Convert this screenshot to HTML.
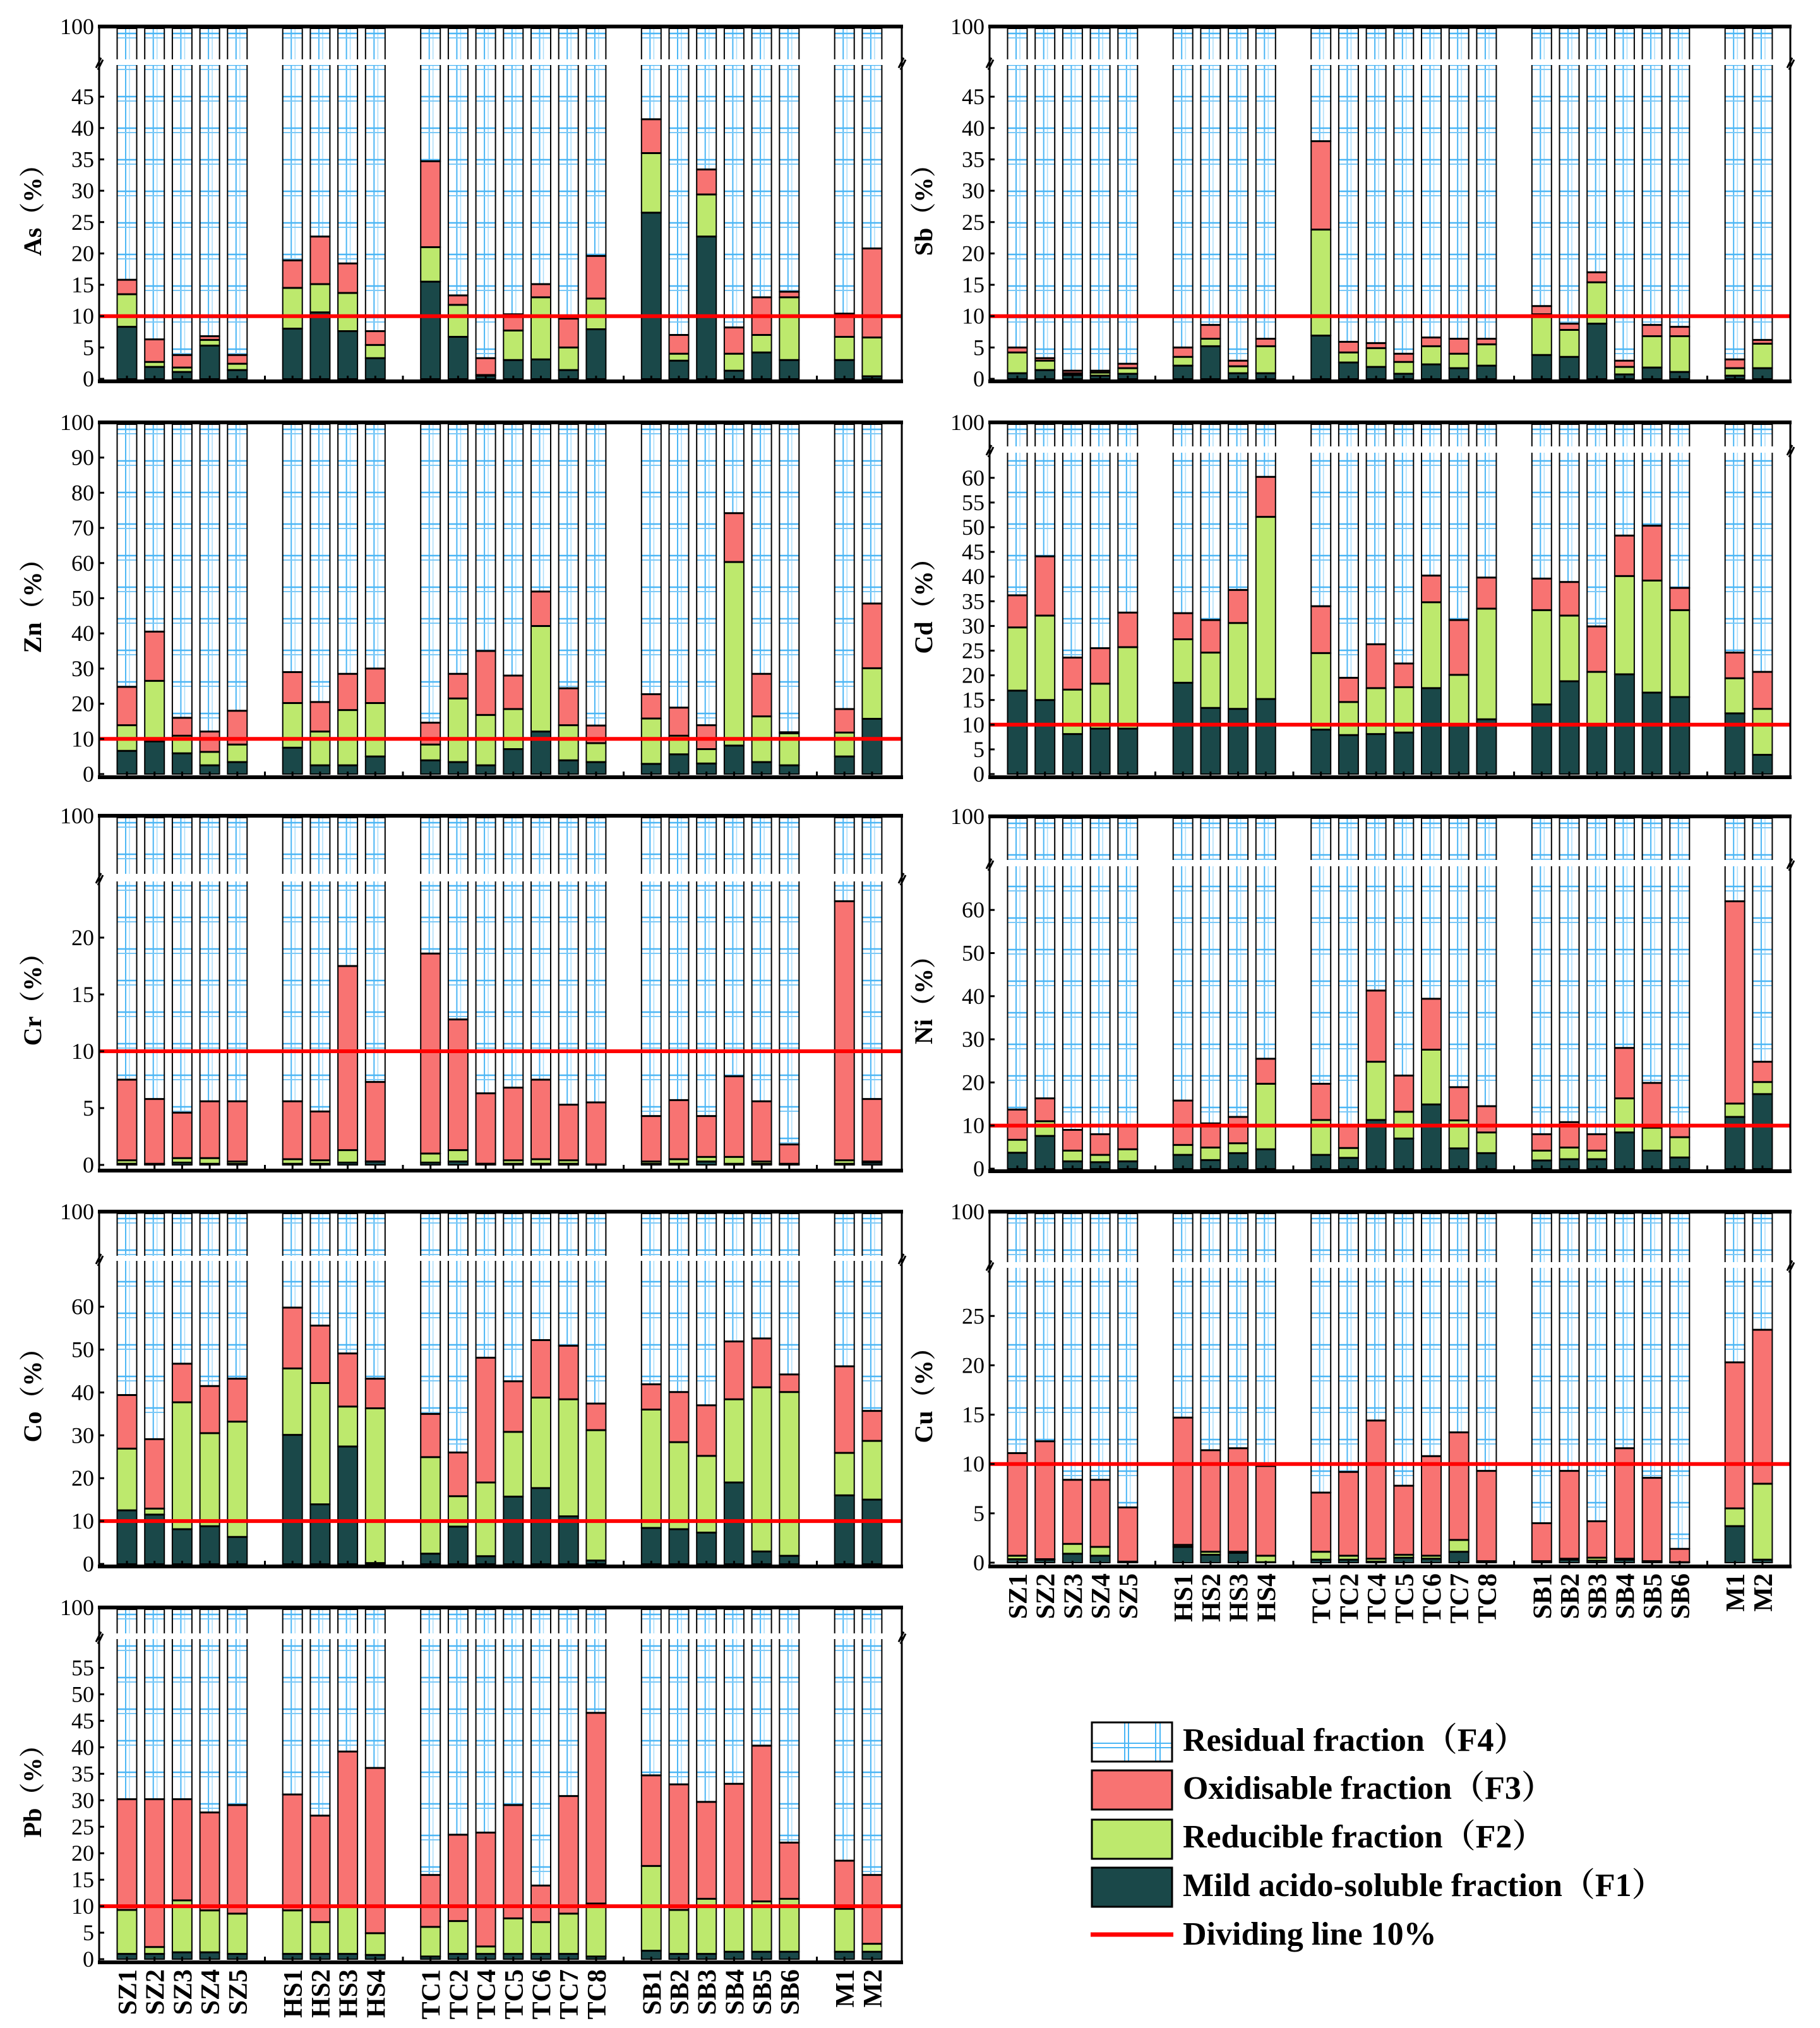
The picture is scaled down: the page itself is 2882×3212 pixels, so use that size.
<!DOCTYPE html>
<html><head><meta charset="utf-8">
<style>
html,body{margin:0;padding:0;background:#fff;}
svg{display:block;}
text{font-family:"Liberation Serif","Noto Serif CJK SC",serif;}
</style></head>
<body>
<svg id="chart" xmlns="http://www.w3.org/2000/svg" width="2882" height="3212" viewBox="0 0 2882 3212">
<rect x="0" y="0" width="2882" height="3212" fill="#fff"/>
<g id="legend">
  <defs>
    <pattern id="legHatch" patternUnits="userSpaceOnUse" x="1729" y="2728" width="127" height="62">
      <rect width="127" height="62" fill="#fff"/>
      <line x1="52" y1="0" x2="52" y2="62" stroke="#4bb6f5" stroke-width="2"/>
      <line x1="58" y1="0" x2="58" y2="62" stroke="#4bb6f5" stroke-width="2"/>
      <line x1="101" y1="0" x2="101" y2="62" stroke="#4bb6f5" stroke-width="2"/>
      <line x1="108" y1="0" x2="108" y2="62" stroke="#4bb6f5" stroke-width="2"/>
      <line x1="0" y1="33" x2="127" y2="33" stroke="#4bb6f5" stroke-width="2"/>
      <line x1="0" y1="40" x2="127" y2="40" stroke="#4bb6f5" stroke-width="2"/>
    </pattern>
  </defs>
  <g>
    <rect x="1729" y="2728" width="127" height="62" fill="url(#legHatch)" stroke="#000" stroke-width="3"/>
    <text x="1873" y="2773" font-size="52" font-weight="bold">Residual fraction（F4）</text>
  </g>
  <g>
    <rect x="1729" y="2804" width="127" height="62" fill="#f87372" stroke="#000" stroke-width="3"/>
    <text x="1873" y="2849" font-size="52" font-weight="bold">Oxidisable fraction（F3）</text>
  </g>
  <g>
    <rect x="1729" y="2882" width="127" height="62" fill="#bde96d" stroke="#000" stroke-width="3"/>
    <text x="1873" y="2926" font-size="52" font-weight="bold">Reducible fraction（F2）</text>
  </g>
  <g>
    <rect x="1729" y="2958" width="127" height="62" fill="#1a4849" stroke="#000" stroke-width="3"/>
    <text x="1873" y="3003" font-size="52" font-weight="bold">Mild acido-soluble fraction（F1）</text>
  </g>
  <g>
    <line x1="1727" y1="3064" x2="1858" y2="3064" stroke="#ff0000" stroke-width="7"/>
    <text x="1873" y="3080" font-size="52" font-weight="bold">Dividing line 10%</text>
  </g>
</g>
</svg>
<script>
const categories = ["SZ1","SZ2","SZ3","SZ4","SZ5","HS1","HS2","HS3","HS4","TC1","TC2","TC4","TC5","TC6","TC7","TC8","SB1","SB2","SB3","SB4","SB5","SB6","M1","M2"];
// NOTE: 25 bars (SZ1-5, HS1-4, TC1,2,4,5,6,7,8, SB1-6, M1,M2)
const dividingLine = 10;

const asF1 = [8.3,1.9,1.1,5.3,1.4,8.0,10.6,7.6,3.3,15.5,6.7,0.5,3.0,3.1,1.4,7.9,26.5,2.9,22.7,1.3,4.2,3.0,3.0,0.4];
const asF2 = [5.2,0.8,0.7,0.9,1.0,6.5,4.5,6.1,2.1,5.5,5.1,0.1,4.7,9.9,3.6,4.9,9.5,1.1,6.7,2.7,2.8,10.0,3.7,6.2];
const asF3 = [2.3,3.6,2.0,0.6,1.4,4.4,7.6,4.7,2.2,13.7,1.5,2.7,2.6,2.1,4.6,6.8,5.4,3.0,4.0,4.2,6.0,0.9,3.7,14.2];

const sbF1 = [0.9,1.4,0.6,0.5,0.8,2.1,5.2,0.9,0.9,6.9,2.6,1.9,0.8,2.3,1.7,2.1,3.8,3.5,8.8,0.7,1.8,1.1,0.5,1.7];
const sbF2 = [3.3,1.5,0.3,0.5,0.9,1.4,1.2,1.1,4.3,16.9,1.6,3.0,1.9,2.9,2.3,3.4,6.5,4.3,6.6,1.2,5.0,5.7,1.2,3.9];
const sbF3 = [0.8,0.4,0.4,0.3,0.7,1.5,2.2,0.9,1.2,14.1,1.7,0.8,1.3,1.4,2.4,0.9,1.3,1.0,1.6,1.0,1.8,1.5,1.4,0.6];

const znF1 = [6.6,9.3,5.9,2.5,3.4,7.5,2.5,2.5,5.0,3.9,3.4,2.5,7.1,12.1,3.9,3.4,2.9,5.6,3.0,8.1,3.4,2.5,5.0,15.7];
const znF2 = [7.3,17.2,5.0,3.8,5.0,12.7,9.6,15.7,15.2,4.5,18.1,14.3,11.4,30.0,10.0,5.4,12.9,5.3,4.1,52.2,13.0,9.1,6.8,14.4];
const znF3 = [10.9,14.0,5.1,5.8,9.6,8.8,8.4,10.3,9.8,6.2,7.0,18.2,9.5,9.8,10.5,5.0,6.9,8.0,6.8,13.9,12.1,0.3,6.7,18.4];

const cdF1 = [16.9,15.0,8.1,9.2,9.2,18.5,13.4,13.2,15.2,9.0,7.9,8.1,8.4,17.4,10.0,11.1,14.1,18.8,10.0,20.2,16.5,15.6,12.3,3.9];
const cdF2 = [12.8,17.1,9.0,9.1,16.5,8.8,11.2,17.4,36.9,15.5,6.7,9.3,9.2,17.4,10.1,22.4,19.1,13.3,10.7,19.9,22.7,17.6,7.1,9.3];
const cdF3 = [6.5,12.0,6.5,7.2,7.0,5.3,6.6,6.7,8.1,9.5,4.9,8.9,4.8,5.4,11.1,6.3,6.4,6.8,9.2,8.2,11.1,4.5,5.2,7.5];

const crF1 = [0.1,0.05,0.2,0.1,0.1,0.1,0.1,0.2,0.3,0.2,0.3,0.1,0.1,0.1,0.1,0.02,0.1,0.1,0.3,0.1,0.1,0.05,0.1,0.2];
const crF2 = [0.3,0.05,0.4,0.5,0.2,0.4,0.3,1.1,0.0,0.8,1.0,0.0,0.3,0.4,0.3,0.03,0.2,0.4,0.4,0.6,0.2,0.05,0.3,0.1];
const crF3 = [7.1,5.7,4.0,5.0,5.3,5.1,4.3,16.2,7.0,17.6,11.5,6.2,6.4,7.0,4.9,5.45,4.0,5.2,3.6,7.1,5.3,1.7,22.8,5.5];

const niF1 = [3.7,7.6,1.7,1.5,1.7,3.2,2.0,3.6,4.5,3.2,2.5,11.3,7.0,14.9,4.7,3.6,1.9,2.2,2.2,8.4,4.2,2.6,12.0,17.3];
const niF2 = [3.0,3.4,2.5,1.7,2.8,2.3,2.9,2.3,15.2,8.1,2.3,13.5,6.2,12.7,6.5,4.8,2.3,2.7,2.0,7.9,5.3,4.7,3.1,2.8];
const niF3 = [7.0,5.3,4.8,4.8,5.4,10.3,5.6,6.1,5.8,8.4,5.1,16.5,8.4,11.8,7.7,6.1,3.8,5.9,3.8,11.7,10.4,2.6,46.9,4.7];

const coF1 = [12.5,11.5,8.1,8.8,6.3,30.1,13.9,27.4,0.2,2.4,8.7,1.8,15.7,17.7,11.1,0.8,8.4,8.1,7.3,19.0,2.9,1.9,16.0,15.0];
const coF2 = [14.4,1.4,29.6,21.7,26.9,15.5,28.3,9.3,36.1,22.5,7.1,17.2,15.1,21.1,27.3,30.4,27.6,20.3,17.9,19.4,38.3,38.2,9.9,13.7];
const coF3 = [12.5,16.2,9.0,11.0,10.0,14.2,13.4,12.4,6.9,10.1,10.2,29.1,11.8,13.4,12.5,6.2,5.9,11.7,11.8,13.5,11.4,4.1,20.2,7.0];

const cuF1 = [0.35,0.3,0.9,0.7,0.05,1.6,0.8,1.0,0.05,0.3,0.3,0.1,0.5,0.4,1.1,0.1,0.1,0.3,0.2,0.3,0.1,0.02,3.7,0.3];
const cuF2 = [0.35,0.05,1.0,0.9,0.05,0.2,0.3,0.1,0.65,0.8,0.4,0.3,0.3,0.3,1.2,0.05,0.05,0.1,0.3,0.1,0.05,0.03,1.8,7.7];
const cuF3 = [10.4,11.95,6.5,6.8,5.5,12.9,10.3,10.5,9.1,6.0,8.5,14.0,7.0,10.1,10.9,9.15,3.85,8.9,3.7,11.2,8.45,1.35,14.8,15.6];

const pbF1 = [1.0,1.0,1.3,1.3,1.0,1.0,1.0,1.0,0.8,0.5,1.0,1.0,1.0,1.0,1.0,0.5,1.6,1.0,1.0,1.4,1.4,1.4,1.4,1.4];
const pbF2 = [8.3,1.3,9.8,7.9,7.6,8.2,6.0,8.9,4.1,5.6,6.2,1.4,6.7,6.0,7.6,10.0,16.0,8.3,10.4,8.5,9.5,10.0,8.1,1.5];
const pbF3 = [20.9,27.9,19.1,18.5,20.5,21.9,20.1,29.3,31.2,9.8,16.3,21.5,21.4,6.9,22.2,36.0,17.1,23.7,18.3,23.2,29.4,10.6,9.1,13.0];

const asTicks = [0,5,10,15,20,25,30,35,40,45];
const sbTicks = [0,5,10,15,20,25,30,35,40,45];
const znTicks = [0,10,20,30,40,50,60,70,80,90,100];
const cdTicks = [0,5,10,15,20,25,30,35,40,45,50,55,60];
const crTicks = [0,5,10,15,20];
const niTicks = [0,10,20,30,40,50,60];
const coTicks = [0,10,20,30,40,50,60];
const cuTicks = [0,5,10,15,20,25];
const pbTicks = [0,5,10,15,20,25,30,35,40,45,50,55];

const NS = "http://www.w3.org/2000/svg";
const svg = document.getElementById("chart");
function mk(tag, attrs, parent){
  const e = document.createElementNS(NS, tag);
  for (const k in attrs) e.setAttribute(k, attrs[k]);
  (parent||svg).appendChild(e);
  return e;
}
// slot index for each category: extra empty slot between site groups
const slots = [];
(function(){
  let s = 0, prev = null;
  categories.forEach(c => {
    const g = c.replace(/[0-9]/g,"");
    if (prev !== null && g !== prev) s += 1;
    slots.push(s); s += 1; prev = g;
  });
})();
const SLOT = 43.7, BARW = 31, PH = 562;

const panels = [
  {key:"as", label:"As", left:157, right:1428, top:42, zero:600, ppu:9.93, gap:[52,61], f1:asF1,f2:asF2,f3:asF3, ticks:asTicks, title:51, xlab:false},
  {key:"sb", label:"Sb", left:1567, right:2835, top:42, zero:600, ppu:9.93, gap:[52,61], f1:sbF1,f2:sbF2,f3:sbF3, ticks:sbTicks, title:1462, xlab:false},
  {key:"zn", label:"Zn", left:157, right:1428, top:669, zero:1226, ppu:5.57, gap:null, f1:znF1,f2:znF2,f3:znF3, ticks:znTicks, title:51, xlab:false},
  {key:"cd", label:"Cd", left:1567, right:2835, top:669, zero:1226, ppu:7.82, gap:[38,48], f1:cdF1,f2:cdF2,f3:cdF3, ticks:cdTicks, title:1462, xlab:false},
  {key:"cr", label:"Cr", left:157, right:1428, top:1292, zero:1845, ppu:18.0, gap:[92,104], f1:crF1,f2:crF2,f3:crF3, ticks:crTicks, title:51, xlab:false},
  {key:"ni", label:"Ni", left:1567, right:2835, top:1293, zero:1851, ppu:6.83, gap:[69,79], f1:niF1,f2:niF2,f3:niF3, ticks:niTicks, title:1462, xlab:false},
  {key:"co", label:"Co", left:157, right:1428, top:1919, zero:2477, ppu:6.79, gap:[70,78], f1:coF1,f2:coF2,f3:coF3, ticks:coTicks, title:51, xlab:false},
  {key:"cu", label:"Cu", left:1567, right:2835, top:1919, zero:2475, ppu:15.63, gap:[80,89], f1:cuF1,f2:cuF2,f3:cuF3, ticks:cuTicks, title:1462, xlab:true},
  {key:"pb", label:"Pb", left:157, right:1428, top:2546, zero:3103, ppu:8.39, gap:[41,50], f1:pbF1,f2:pbF2,f3:pbF3, ticks:pbTicks, title:51, xlab:true}
];

panels.forEach(p => {
  const g = mk("g", {});
  
  
  const yS = v => p.zero - v * p.ppu;
  const xS = i => p.left + 44 + slots[i] * SLOT;
  const bottom = p.top + PH;
  // hatch pattern
  const defs = mk("defs", {}, g);
  const pat = mk("pattern", {id:"hatch-"+p.key, patternUnits:"userSpaceOnUse", x:(p.left + 44 - SLOT/2), y:p.top+8, width:SLOT, height:50}, defs);
  mk("rect", {width:SLOT, height:50, fill:"#fff"}, pat);
  mk("line", {x1:SLOT/2-2, y1:0, x2:SLOT/2-2, y2:50, stroke:"#4bb6f5", "stroke-width":2}, pat);
  mk("line", {x1:SLOT/2+4, y1:0, x2:SLOT/2+4, y2:50, stroke:"#a8dcfa", "stroke-width":1.5}, pat);
  mk("line", {x1:0, y1:3, x2:SLOT, y2:3, stroke:"#4bb6f5", "stroke-width":2.5}, pat);
  mk("line", {x1:0, y1:10, x2:SLOT, y2:10, stroke:"#7cc9f7", "stroke-width":2}, pat);

  const barsG = mk("g", {}, g);
  
  
  categories.forEach((c, i) => {
    const cx = xS(i), x0 = cx - BARW/2;
    const a = p.f1[i], b = a + p.f2[i], t = b + p.f3[i];
    const bar = mk("g", {}, barsG);
    
    
    const r4 = mk("rect", {x:x0, y:p.top+3, width:BARW, height:Math.max(0, yS(t) - p.top - 3), fill:"url(#hatch-"+p.key+")", stroke:"#000", "stroke-width":2}, bar);
    
    
    const r3 = mk("rect", {x:x0, y:yS(t), width:BARW, height:Math.max(0,(t-b)*p.ppu), fill:"#f87372", stroke:"#000", "stroke-width":2}, bar);
    
    
    const r2 = mk("rect", {x:x0, y:yS(b), width:BARW, height:Math.max(0,(b-a)*p.ppu), fill:"#bde96d", stroke:"#000", "stroke-width":2}, bar);
    
    
    const r1 = mk("rect", {x:x0, y:yS(a), width:BARW, height:Math.max(0,a*p.ppu), fill:"#1a4849", stroke:"#000", "stroke-width":2}, bar);
    
    
    [t, b, a].forEach(v => {
      mk("line", {x1:x0, y1:yS(v), x2:x0+BARW, y2:yS(v), stroke:"#000", "stroke-width":3}, bar);
    });
  });
  // axis break gap
  if (p.gap) {
    const gy = p.top + p.gap[0], gh = p.gap[1] - p.gap[0];
    const gap = mk("rect", {x:p.left+2, y:gy, width:p.right-p.left-4, height:gh, fill:"#fff"}, g);
    
    
    [p.left, p.right].forEach(xx => {
      const bm = mk("g", {}, g);
      
      
      mk("line", {x1:xx-5, y1:gy+gh/2+9, x2:xx+3, y2:gy+gh/2-7, stroke:"#000", "stroke-width":3}, bm);
      mk("line", {x1:xx-2, y1:gy+gh/2+12, x2:xx+6, y2:gy+gh/2-4, stroke:"#000", "stroke-width":3}, bm);
    });
  }
  // dividing line
  const dl = mk("line", {x1:p.left, y1:yS(dividingLine), x2:p.right, y2:yS(dividingLine), stroke:"#ff0000", "stroke-width":6}, g);
  
  
  // frame
  const fr = mk("g", {}, g);
  
  
  mk("line", {x1:p.left-2, y1:p.top, x2:p.right+2, y2:p.top, stroke:"#000", "stroke-width":6}, fr);
  mk("line", {x1:p.left-2, y1:bottom, x2:p.right+2, y2:bottom, stroke:"#000", "stroke-width":6}, fr);
  mk("line", {x1:p.left, y1:p.top, x2:p.left, y2:bottom, stroke:"#000", "stroke-width":3}, fr);
  mk("line", {x1:p.right, y1:p.top, x2:p.right, y2:bottom, stroke:"#000", "stroke-width":3}, fr);
  // x ticks
  const nSlots = slots[slots.length-1] + 1;
  for (let s = 0; s < nSlots; s++) {
    const tx = p.left + 44 + s * SLOT;
    const tk = mk("line", {x1:tx, y1:bottom, x2:tx, y2:bottom-9, stroke:"#000", "stroke-width":3}, g);
    
    
  }
  // y ticks & labels
  const yax = mk("g", {}, g);
  
  
  p.ticks.forEach(v => {
    const ty = (p.gap === null && v === 100) ? p.top : yS(v);
    mk("line", {x1:p.left, y1:ty, x2:p.left+8, y2:ty, stroke:"#000", "stroke-width":3}, yax);
    if (!(p.gap === null && v === 100)) {
      const tl = mk("text", {x:p.left-8, y:ty+12, "text-anchor":"end", "font-size":36}, yax);
      tl.textContent = v;
      
      
    }
  });
  const top100 = mk("text", {x:p.left-8, y:p.top+12, "text-anchor":"end", "font-size":36}, yax);
  top100.textContent = "100";
  
  
  // y title
  const cy = p.top + PH/2;
  const yt = mk("text", {x:0, y:0, "text-anchor":"middle", "font-size":40, "font-weight":"bold", transform:"translate(" + (p.title+14) + "," + cy + ") rotate(-90)"}, g);
  yt.textContent = p.label + "（%）";
  
  
  // x labels
  if (p.xlab) {
    const xl = mk("g", {}, g);
    
    
    categories.forEach((c, i) => {
      const lx = xS(i) + 15, ly = bottom + 11;
      const t = mk("text", {x:0, y:0, "text-anchor":"end", "font-size":42, "font-weight":"bold", transform:"translate(" + lx + "," + ly + ") rotate(-90)"}, xl);
      t.textContent = c;
      
      
    });
  }
});
</script>
</body></html>
